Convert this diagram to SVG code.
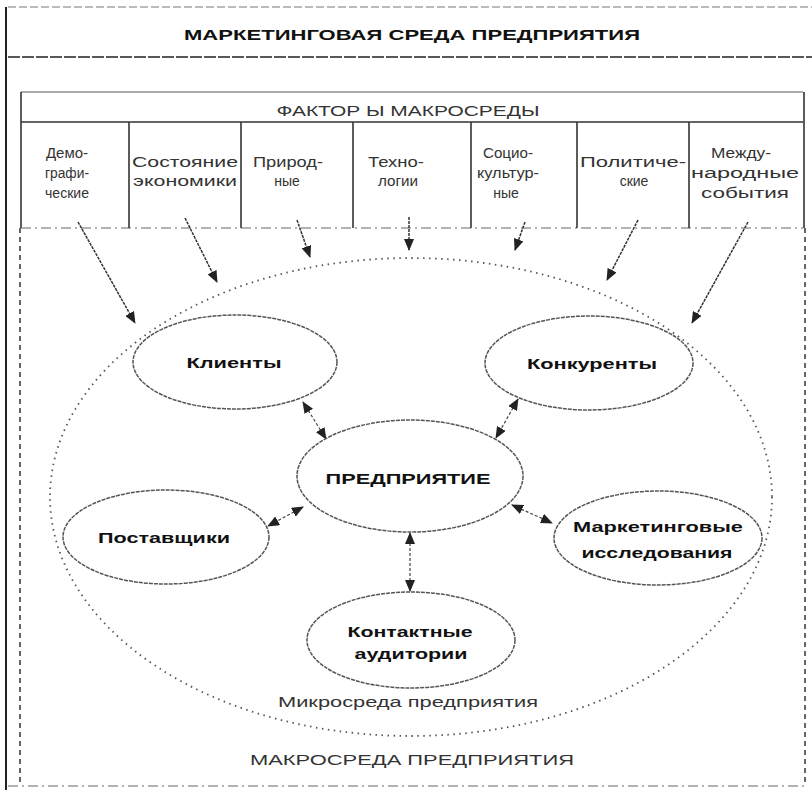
<svg xmlns="http://www.w3.org/2000/svg" width="812" height="796" viewBox="0 0 812 796">
<defs>
<marker id="ah" markerUnits="userSpaceOnUse" markerWidth="12" markerHeight="10" refX="11" refY="5" orient="auto-start-reverse" viewBox="0 0 12 10"><path d="M0,0 L12,5 L0,10 z" fill="#222"/></marker>
<style>
.t{font-family:"Liberation Sans",Arial,sans-serif;fill:#333;font-size:14px;text-anchor:middle}
.nb{font-family:"Liberation Sans",Arial,sans-serif;fill:#111;font-size:15px;font-weight:bold;text-anchor:middle}
.node{fill:#fff;stroke:#555;stroke-width:1.5;stroke-dasharray:4 1}
.arr{stroke:#333;stroke-width:1.5;stroke-dasharray:3 1;fill:none;marker-end:url(#ah)}
.bi{stroke:#444;stroke-width:1.2;stroke-dasharray:3 2;fill:none;marker-start:url(#ah);marker-end:url(#ah)}
.div{stroke:#333;stroke-width:1.6}
.dd{stroke:#666;stroke-width:1.2;stroke-dasharray:10 4 2 4;fill:none}
</style>
</defs>
<rect x="0" y="0" width="812" height="796" fill="#fff"/>
<g id="frame">
<line x1="8" y1="7" x2="812" y2="7" stroke="#777" stroke-width="1" stroke-dasharray="8 3"/>
<line x1="8" y1="57" x2="812" y2="57" stroke="#222" stroke-width="1.6" stroke-dasharray="12 2"/>
<line x1="6" y1="7" x2="6" y2="790" stroke="#222" stroke-width="2"/>
<line x1="21" y1="92" x2="803" y2="92" stroke="#555" stroke-width="1.2"/>
<line x1="21" y1="92" x2="21" y2="228" class="div"/>
<line x1="804" y1="92" x2="804" y2="228" class="div"/>
<line x1="21" y1="122" x2="803" y2="122" stroke="#333" stroke-width="1.4"/>
<line x1="21" y1="228" x2="803" y2="228" class="dd"/>
<line x1="20" y1="228" x2="20" y2="786" stroke="#333" stroke-width="1.5" stroke-dasharray="5 4"/>
<line x1="805" y1="228" x2="805" y2="786" stroke="#333" stroke-width="1.5" stroke-dasharray="5 4"/>
<line x1="8" y1="786" x2="805" y2="786" class="dd"/>
<text x="412" y="40" class="nb" font-size="16" textLength="456" lengthAdjust="spacingAndGlyphs">МАРКЕТИНГОВАЯ СРЕДА ПРЕДПРИЯТИЯ</text>
<text x="408" y="116" class="t" font-size="15" textLength="263" lengthAdjust="spacingAndGlyphs">ФАКТОР Ы МАКРОСРЕДЫ</text>
<text x="412" y="765" class="t" font-size="17" textLength="324" lengthAdjust="spacingAndGlyphs">МАКРОСРЕДА ПРЕДПРИЯТИЯ</text>
</g>
<g id="factors">
<line x1="129" y1="122" x2="129" y2="228" class="div"/>
<line x1="241" y1="122" x2="241" y2="228" class="div"/>
<line x1="353" y1="122" x2="353" y2="228" class="div"/>
<line x1="471" y1="122" x2="471" y2="228" class="div"/>
<line x1="577" y1="122" x2="577" y2="228" class="div"/>
<line x1="689" y1="122" x2="689" y2="228" class="div"/>
<g id="f-demo"><text x="67" y="158" class="t" font-size="15" textLength="42" lengthAdjust="spacingAndGlyphs">Демо-</text><text x="67" y="178" class="t" font-size="15" textLength="44" lengthAdjust="spacingAndGlyphs">графи-</text><text x="67" y="198" class="t" font-size="15" textLength="44" lengthAdjust="spacingAndGlyphs">ческие</text></g>
<g id="f-econ"><text x="185" y="167" class="t" font-size="15" textLength="106" lengthAdjust="spacingAndGlyphs">Состояние</text><text x="185" y="186" class="t" font-size="14" textLength="104" lengthAdjust="spacingAndGlyphs">экономики</text></g>
<g id="f-nature"><text x="288" y="167" class="t" font-size="15" textLength="70" lengthAdjust="spacingAndGlyphs">Природ-</text><text x="287" y="186" class="t" font-size="15">ные</text></g>
<g id="f-tech"><text x="396" y="167" class="t" font-size="15" textLength="56" lengthAdjust="spacingAndGlyphs">Техно-</text><text x="398" y="186" class="t" font-size="15" textLength="40" lengthAdjust="spacingAndGlyphs">логии</text></g>
<g id="f-socio"><text x="508" y="158" class="t" font-size="15" textLength="50" lengthAdjust="spacingAndGlyphs">Социо-</text><text x="508" y="178" class="t" font-size="15" textLength="62" lengthAdjust="spacingAndGlyphs">культур-</text><text x="506" y="198" class="t" font-size="15">ные</text></g>
<g id="f-polit"><text x="633" y="167" class="t" font-size="15" textLength="106" lengthAdjust="spacingAndGlyphs">Политиче-</text><text x="634" y="186" class="t" font-size="15">ские</text></g>
<g id="f-intl"><text x="741" y="158" class="t" font-size="15" textLength="60" lengthAdjust="spacingAndGlyphs">Между-</text><text x="745" y="178" class="t" font-size="15" textLength="108" lengthAdjust="spacingAndGlyphs">народные</text><text x="745" y="198" class="t" font-size="15" textLength="88" lengthAdjust="spacingAndGlyphs">события</text></g>
</g>
<g id="micro">
<ellipse cx="411" cy="497" rx="361" ry="239" fill="none" stroke="#555" stroke-width="1.8" stroke-dasharray="1.5 4.5"/>
<text x="408" y="707" class="t" font-size="15" textLength="260" lengthAdjust="spacingAndGlyphs">Микросреда предприятия</text>
</g>
<g id="connectors">
<line x1="78" y1="222" x2="135" y2="323" class="arr"/>
<line x1="185" y1="218" x2="217" y2="282" class="arr"/>
<line x1="297" y1="220" x2="310" y2="257" class="arr"/>
<line x1="409" y1="217" x2="409" y2="250" class="arr"/>
<line x1="525" y1="222" x2="515" y2="250" class="arr"/>
<line x1="638" y1="220" x2="607" y2="280" class="arr"/>
<line x1="748" y1="222" x2="692" y2="323" class="arr"/>
<line x1="303" y1="402" x2="326" y2="439" class="bi"/>
<line x1="518" y1="399" x2="496" y2="438" class="bi"/>
<line x1="303" y1="507" x2="268" y2="526" class="bi"/>
<line x1="512" y1="505" x2="552" y2="523" class="bi"/>
<line x1="410" y1="533" x2="410" y2="591" class="bi"/>
</g>
<g id="n-klienty"><ellipse cx="235" cy="362" rx="102" ry="47" class="node"/><text x="234" y="368" class="nb" textLength="95" lengthAdjust="spacingAndGlyphs">Клиенты</text></g>
<g id="n-konkurenty"><ellipse cx="589" cy="363" rx="104" ry="47" class="node"/><text x="592" y="369" class="nb" textLength="130" lengthAdjust="spacingAndGlyphs">Конкуренты</text></g>
<g id="n-predpr"><ellipse cx="410" cy="476" rx="113" ry="56" class="node"/><text x="408" y="484" class="nb" font-size="16" textLength="165" lengthAdjust="spacingAndGlyphs">ПРЕДПРИЯТИЕ</text></g>
<g id="n-postav"><ellipse cx="166" cy="537" rx="103" ry="47" class="node"/><text x="164" y="543" class="nb" textLength="132" lengthAdjust="spacingAndGlyphs">Поставщики</text></g>
<g id="n-market"><ellipse cx="658" cy="538" rx="104" ry="47" class="node"/><text x="658" y="532" class="nb" textLength="170" lengthAdjust="spacingAndGlyphs">Маркетинговые</text><text x="657" y="558" class="nb" textLength="151" lengthAdjust="spacingAndGlyphs">исследования</text></g>
<g id="n-kontakt"><ellipse cx="411" cy="640" rx="104" ry="48" class="node"/><text x="410" y="637" class="nb" textLength="125" lengthAdjust="spacingAndGlyphs">Контактные</text><text x="411" y="659" class="nb" textLength="113" lengthAdjust="spacingAndGlyphs">аудитории</text></g>
</svg>
